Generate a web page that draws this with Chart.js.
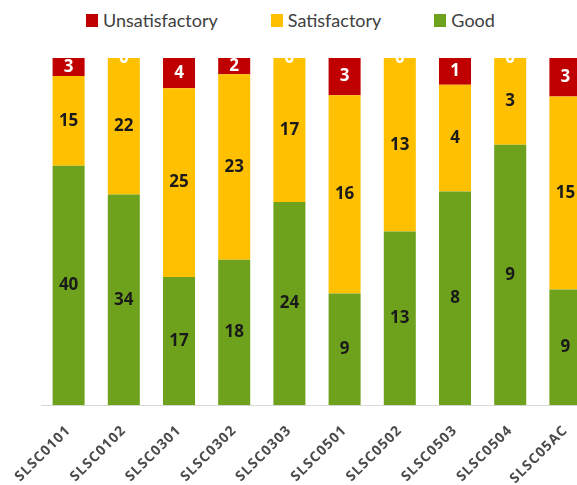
<!DOCTYPE html>
<html lang="en">
<head>
    <meta charset="UTF-8">
    <title>Ratings by site</title>
    <script src="https://cdn.jsdelivr.net/npm/chart.js"></script>
    <style>
        html, body {
            margin: 0;
            padding: 0;
            background: #fff;
            overflow: hidden;
        }
        .wrap {
            position: absolute;
            left: 0;
            top: 0;
            width: 600px;
            height: 496px;
        }
        .legend {
            position: absolute;
            top: 9px;
            left: 86px;
            display: flex;
            font-family: Lato, sans-serif;
            font-size: 18px;
            color: #404040;
        }
        .legend span.item {
            display: flex;
            align-items: center;
            margin-right: 53px;
        }
        .legend span.box {
            display: inline-block;
            width: 12px;
            height: 13px;
            margin-right: 5px;
        }
    </style>
</head>
<body>
    <div class="legend" id="legend"></div>
    <div class="wrap">
        <canvas id="ratingChart" width="600" height="496"></canvas>
    </div>

    <script>
        const sites = ['SLSC0101', 'SLSC0102', 'SLSC0301', 'SLSC0302', 'SLSC0303',
                       'SLSC0501', 'SLSC0502', 'SLSC0503', 'SLSC0504', 'SLSC05AC'];
        const good = [40, 34, 17, 18, 24, 9, 13, 8, 9, 9];
        const satisfactory = [15, 22, 25, 23, 17, 16, 13, 4, 3, 15];
        const unsatisfactory = [3, 0, 4, 2, 0, 3, 0, 1, 0, 3];

        const series = [
            { label: 'Good', counts: good, color: '#6ea21c', text: '#1a1a1a' },
            { label: 'Satisfactory', counts: satisfactory, color: '#ffc000', text: '#1a1a1a' },
            { label: 'Unsatisfactory', counts: unsatisfactory, color: '#c00000', text: '#ffffff' }
        ];

        // each bar is shown as a share of its site total (100% stacked)
        const totals = sites.map((s, i) => good[i] + satisfactory[i] + unsatisfactory[i]);

        // legend in reverse order like the original
        const legendEl = document.getElementById('legend');
        series.slice().reverse().forEach(s => {
            const item = document.createElement('span');
            item.className = 'item';
            const box = document.createElement('span');
            box.className = 'box';
            box.style.background = s.color;
            item.appendChild(box);
            item.appendChild(document.createTextNode(s.label));
            legendEl.appendChild(item);
        });

        // spaced-out tick labels, normal spacing for the counts
        const spacing = {
            id: 'spacing',
            beforeUpdate(chart) { chart.ctx.letterSpacing = '1px'; },
            beforeDraw(chart) { chart.ctx.letterSpacing = '1px'; },
            beforeDatasetsDraw(chart) { chart.ctx.letterSpacing = '0px'; }
        };

        // draw the counts in the middle of each segment
        const valueLabels = {
            id: 'valueLabels',
            afterDatasetsDraw(chart) {
                const ctx = chart.ctx;
                const area = chart.chartArea;
                ctx.save();
                ctx.beginPath();
                ctx.rect(area.left, area.top, area.right - area.left, area.bottom - area.top);
                ctx.clip();
                ctx.font = 'bold 17px "Open Sans", sans-serif';
                ctx.textAlign = 'center';
                ctx.textBaseline = 'middle';
                chart.data.datasets.forEach((ds, di) => {
                    const meta = chart.getDatasetMeta(di);
                    meta.data.forEach((bar, i) => {
                        const count = ds.counts[i];
                        const y = count === 0 ? bar.y : (bar.y + bar.base) / 2;
                        ctx.fillStyle = ds.textColor;
                        ctx.fillText(String(count), bar.x, y);
                    });
                });
                ctx.restore();
            }
        };

        new Chart(document.getElementById('ratingChart'), {
            type: 'bar',
            data: {
                labels: sites,
                datasets: series.map(s => ({
                    label: s.label,
                    data: s.counts.map((v, i) => v / totals[i] * 100),
                    counts: s.counts,
                    textColor: s.text,
                    backgroundColor: s.color,
                    categoryPercentage: 1,
                    barPercentage: 0.58
                }))
            },
            options: {
                responsive: false,
                animation: false,
                layout: {
                    padding: { top: 58, right: 7, left: 41, bottom: 0 }
                },
                plugins: {
                    legend: { display: false },
                    tooltip: { enabled: false }
                },
                scales: {
                    x: {
                        stacked: true,
                        grid: { display: false },
                        border: { display: true, color: '#d9d9d9' },
                        ticks: {
                            minRotation: 45,
                            maxRotation: 45,
                            padding: 9,
                            color: '#4a4a4a',
                            font: { family: '"Open Sans", sans-serif', size: 14, weight: 'bold' }
                        }
                    },
                    y: {
                        stacked: true,
                        display: false,
                        min: 0,
                        max: 100
                    }
                }
            },
            plugins: [spacing, valueLabels]
        });
    </script>
</body>
</html>
